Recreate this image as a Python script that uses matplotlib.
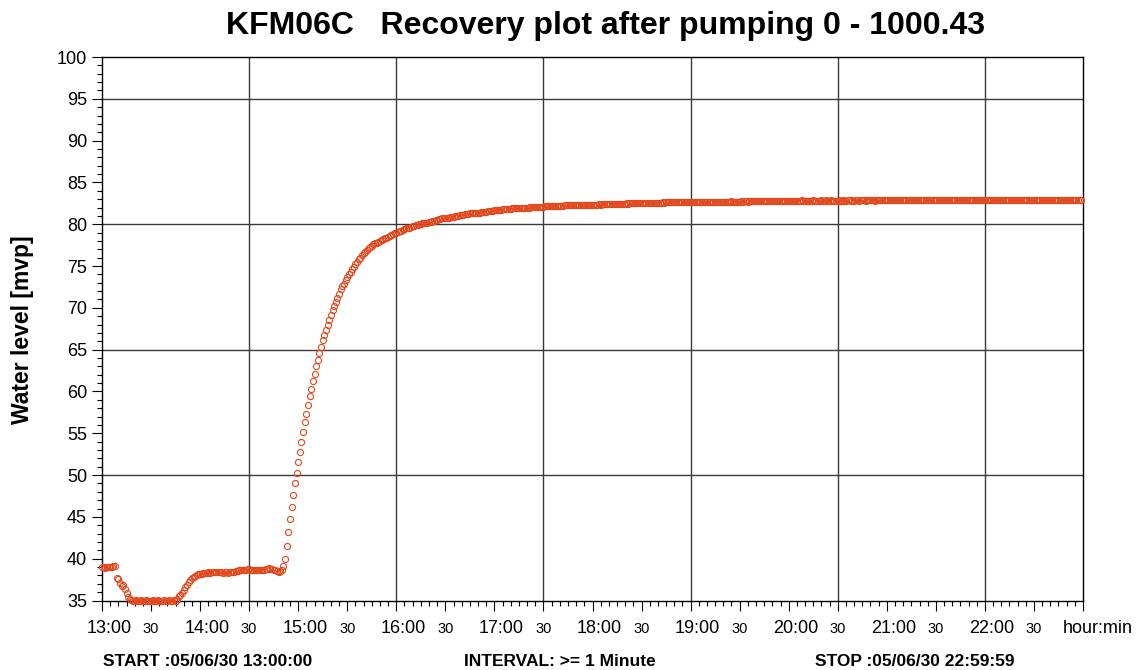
import numpy as np
import matplotlib
matplotlib.use("Agg")
import matplotlib.pyplot as plt
from matplotlib import transforms
from matplotlib.ticker import MultipleLocator

plt.rcParams['font.family'] = ['Liberation Sans', 'DejaVu Sans']

# ---- data: water level [mvp], one reading per minute, starting 13:00 ----
level_13h = [38.95, 39.0, 38.9, 39.0, 38.95, 39.0, 39.05, 39.1, 39.1,
             37.7, 37.6, 37.1, 36.7, 36.8, 36.4, 35.9, 35.4, 35.15,
             35.05, 35.0, 35.0, 35.05, 35.0, 35.0, 35.05, 35.0, 35.0, 35.05,
             35.0, 35.0, 35.0, 35.05, 35.0, 35.0, 35.05, 35.0, 35.0, 35.0,
             35.05, 35.0, 35.0, 35.05, 35.0, 35.0, 35.05, 35.0,
             35.15, 35.5, 35.6, 35.95, 36.3, 36.6, 36.9, 37.2, 37.45, 37.65,
             37.8, 37.95, 38.05, 38.15]
level_14h = [38.2, 38.2, 38.25, 38.3, 38.3, 38.35, 38.3, 38.35, 38.4, 38.35,
             38.4, 38.35, 38.4, 38.35, 38.3, 38.35, 38.35, 38.3, 38.35, 38.4,
             38.4, 38.45, 38.5, 38.55, 38.6, 38.6, 38.65, 38.7, 38.7, 38.75,
             38.75, 38.7, 38.7, 38.65, 38.7, 38.65, 38.65, 38.6, 38.65, 38.7,
             38.75, 38.8, 38.85, 38.8, 38.75, 38.7, 38.6, 38.5, 38.45, 38.55,
             38.6, 39.1, 40.0, 41.5, 43.2, 44.7, 46.2, 47.6, 49.0, 50.3]
level_15h = [51.6, 52.8, 54.0, 55.2, 56.3, 57.3, 58.4, 59.4, 60.3, 61.2,
             62.1, 63.0, 63.8, 64.6, 65.3, 66.1, 66.7, 67.3, 68.0, 68.6,
             69.1, 69.7, 70.2, 70.7, 71.2, 71.7, 72.2, 72.6, 72.9, 73.3,
             73.7, 74.0, 74.3, 74.6, 74.9, 75.2, 75.5, 75.8, 76.0, 76.3,
             76.5, 76.7, 76.9, 77.1, 77.3, 77.4, 77.6, 77.7, 77.8, 77.9,
             78.0, 78.1, 78.2, 78.3, 78.4, 78.5, 78.6, 78.7, 78.8, 78.9]
level_16h = [79.0, 79.1, 79.2, 79.2, 79.3, 79.4, 79.5, 79.5, 79.6, 79.7,
             79.8, 79.8, 79.9, 79.9, 80.0, 80.0, 80.1, 80.1, 80.2, 80.2,
             80.3, 80.3, 80.4, 80.4, 80.5, 80.5, 80.6, 80.6, 80.7, 80.7,
             80.8, 80.8, 80.8, 80.9, 80.9, 80.9, 81.0, 81.0, 81.0, 81.1,
             81.1, 81.1, 81.2, 81.2, 81.2, 81.3, 81.3, 81.3, 81.3, 81.4,
             81.4, 81.4, 81.5, 81.5, 81.5, 81.5, 81.6, 81.6, 81.6, 81.6]
level_17h = [81.7, 81.7, 81.7, 81.7, 81.75, 81.8, 81.8, 81.8, 81.8, 81.85,
             81.85, 81.9, 81.9, 81.9, 81.9, 81.95, 81.95, 81.95, 82.0, 82.0,
             82.0, 82.0, 82.05, 82.05, 82.05, 82.05, 82.1, 82.1, 82.1, 82.1,
             82.1, 82.15, 82.15, 82.15, 82.15, 82.15, 82.2, 82.2, 82.2, 82.2,
             82.2, 82.2, 82.2, 82.25, 82.25, 82.25, 82.25, 82.25, 82.25, 82.3,
             82.3, 82.3, 82.3, 82.3, 82.3, 82.3, 82.3, 82.35, 82.35, 82.35]
level_18h = [82.35, 82.35, 82.35, 82.35, 82.4, 82.35, 82.4, 82.4, 82.4, 82.4,
             82.4, 82.4, 82.45, 82.4, 82.45, 82.45, 82.45, 82.45, 82.45, 82.45,
             82.45, 82.5, 82.45, 82.5, 82.5, 82.5, 82.5, 82.5, 82.5, 82.5,
             82.5, 82.5, 82.55, 82.5, 82.55, 82.55, 82.55, 82.55, 82.55, 82.55,
             82.55, 82.55, 82.55, 82.6, 82.55, 82.6, 82.6, 82.6, 82.6, 82.6,
             82.6, 82.6, 82.6, 82.6, 82.6, 82.6, 82.65, 82.6, 82.6, 82.65]
level_19h = [82.6, 82.65, 82.6, 82.65, 82.65, 82.6, 82.65, 82.65, 82.65, 82.65,
             82.65, 82.7, 82.65, 82.65, 82.65, 82.7, 82.65, 82.7, 82.7, 82.7,
             82.7, 82.7, 82.7, 82.7, 82.7, 82.75, 82.7, 82.7, 82.7, 82.7,
             82.7, 82.75, 82.7, 82.75, 82.75, 82.7, 82.75, 82.75, 82.75, 82.75,
             82.75, 82.75, 82.8, 82.75, 82.75, 82.75, 82.75, 82.8, 82.75, 82.75,
             82.75, 82.8, 82.75, 82.8, 82.8, 82.75, 82.8, 82.8, 82.8, 82.8]
level_20h = [82.8, 82.8, 82.8, 82.75, 82.8, 82.8, 82.8, 82.8, 82.85, 82.8,
             82.8, 82.8, 82.8, 82.8, 82.8, 82.85, 82.8, 82.8, 82.8, 82.8,
             82.85, 82.8, 82.8, 82.85, 82.8, 82.8, 82.85, 82.8, 82.8, 82.8,
             82.8, 82.85, 82.8, 82.85, 82.8, 82.8, 82.85, 82.85, 82.8, 82.85,
             82.8, 82.85, 82.85, 82.8, 82.85, 82.85, 82.85, 82.8, 82.85, 82.85,
             82.85, 82.85, 82.85, 82.8, 82.85, 82.85, 82.85, 82.85, 82.85, 82.85]
level_21h = [82.85, 82.85, 82.85, 82.9, 82.85, 82.85, 82.85, 82.85, 82.85, 82.85,
             82.85, 82.85, 82.9, 82.85, 82.85, 82.85, 82.85, 82.9, 82.85, 82.85,
             82.85, 82.85, 82.85, 82.9, 82.85, 82.85, 82.85, 82.85, 82.9, 82.85,
             82.85, 82.9, 82.85, 82.85, 82.85, 82.9, 82.85, 82.85, 82.85, 82.9,
             82.85, 82.85, 82.9, 82.85, 82.85, 82.9, 82.85, 82.85, 82.9, 82.85,
             82.85, 82.9, 82.85, 82.85, 82.9, 82.85, 82.9, 82.85, 82.85, 82.9]
level_22h = [82.85, 82.9, 82.85, 82.9, 82.85, 82.9, 82.85, 82.9, 82.9, 82.85,
             82.9, 82.9, 82.85, 82.9, 82.9, 82.85, 82.9, 82.9, 82.9, 82.9,
             82.9, 82.95, 82.9, 82.9, 82.9, 82.95, 82.9, 82.9, 82.95, 82.9,
             82.9, 82.95, 82.9, 82.95, 82.9, 82.9, 82.95, 82.9, 82.95, 82.9,
             82.95, 82.9, 82.9, 82.95, 82.9, 82.95, 82.9, 82.95, 82.9, 82.9,
             82.95, 82.9, 82.95, 82.9, 82.9, 82.95, 82.9, 82.95, 82.9, 82.9]

hour_blocks = [level_13h, level_14h, level_15h, level_16h, level_17h,
               level_18h, level_19h, level_20h, level_21h, level_22h]
start_hour = 13

# tick labels (every 30 minutes from 13:00)
tick_labels = ["13:00", "30", "14:00", "30", "15:00", "30", "16:00", "30",
               "17:00", "30", "18:00", "30", "19:00", "30", "20:00", "30",
               "21:00", "30", "22:00", "30"]

title = "KFM06C   Recovery plot after pumping 0 - 1000.43"
ylabel = "Water level [mvp]"
start_txt = "START :05/06/30 13:00:00"
interval_txt = "INTERVAL: >= 1 Minute"
stop_txt = "STOP :05/06/30 22:59:59"
unit_txt = "hour:min"

# ---- build series (minutes since midnight) ----
times, levels = [], []
for i, block in enumerate(hour_blocks):
    base = (start_hour + i) * 60
    for m, v in enumerate(block):
        times.append(base + m)
        levels.append(v)
times = np.array(times)
levels = np.array(levels)

W, H = 1141, 670
fig = plt.figure(figsize=(W / 100, H / 100), dpi=100)
L, R, T, B = 102, 1083, 57, 600.5
ax = fig.add_axes([L / W, 1 - B / H, (R - L) / W, (B - T) / H])

col = '#E4471C'
ax.plot(times, levels, linestyle='none', marker='o', markersize=4.4,
        markerfacecolor='none', markeredgecolor=col, markeredgewidth=0.8,
        zorder=3, clip_on=False)

x0 = start_hour * 60
ax.set_xlim(x0, x0 + 600)
ax.set_ylim(35, 100)

# grid
grid_c = '#3a3a3a'
for gx in range(x0 + 90, x0 + 600, 90):
    ax.axvline(gx, color=grid_c, lw=1.0, zorder=1)
for gy in (50, 65, 80, 95):
    ax.axhline(gy, color=grid_c, lw=1.0, zorder=1)

for s in ax.spines.values():
    s.set_linewidth(1.0)
    s.set_color('black')

ax.xaxis.set_major_locator(MultipleLocator(30))
ax.xaxis.set_minor_locator(MultipleLocator(5))
ax.yaxis.set_major_locator(MultipleLocator(5))
ax.yaxis.set_minor_locator(MultipleLocator(1))
ax.tick_params(axis='both', which='major', direction='out', length=7.2, width=0.8, color='black')
ax.tick_params(axis='both', which='minor', direction='out', length=3.6, width=0.8, color='black')
ax.tick_params(axis='x', which='major', labelbottom=False)
ax.tick_params(axis='y', which='major', labelsize=13, pad=3.6)

# x tick labels, baseline aligned, big hour labels slightly shifted right
base_y = 1 - 633 / H
blend = transforms.blended_transform_factory(ax.transData, fig.transFigure)
shift = transforms.ScaledTranslation(7 / 100, 0, fig.dpi_scale_trans)
for k, lab in enumerate(tick_labels):
    xt = x0 + 30 * k
    if lab == "30":
        ax.text(xt, base_y, lab, transform=blend, ha='center', va='baseline',
                fontsize=10.5)
    else:
        ax.text(xt, base_y, lab, transform=blend + shift, ha='center',
                va='baseline', fontsize=13)
fig.text(1133 / W, base_y, unit_txt, ha='right', va='baseline', fontsize=13)

fig.text(605 / W, 1 - 34 / H, title, ha='center', va='baseline',
         fontsize=23, fontweight='bold')
fig.text(23 / W, 1 - 330 / H, ylabel, rotation=90, ha='center', va='center',
         fontsize=16.5, fontweight='bold')

bot_y = 1 - 666 / H
fig.text(103 / W, bot_y, start_txt, ha='left', va='baseline', fontsize=12.5, fontweight='bold')
fig.text(560 / W, bot_y, interval_txt, ha='center', va='baseline', fontsize=12.5, fontweight='bold')
fig.text(815 / W, bot_y, stop_txt, ha='left', va='baseline', fontsize=12.5, fontweight='bold')

fig.savefig('out.png', dpi=100)
